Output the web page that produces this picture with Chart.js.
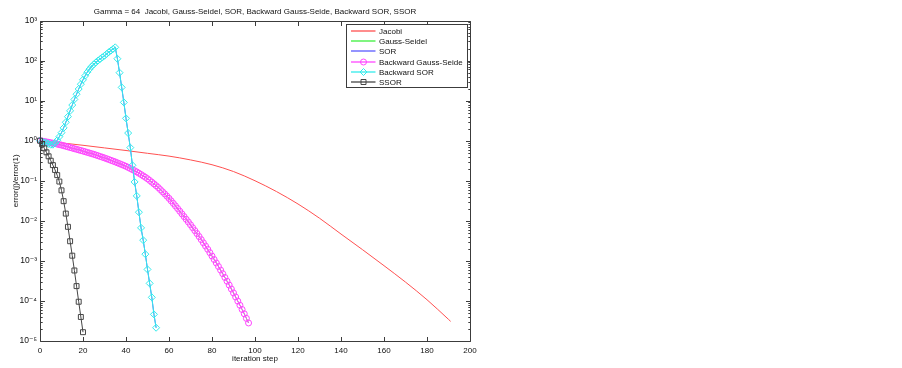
<!DOCTYPE html>
<html>
<head>
<meta charset="utf-8">
<style>
html,body{margin:0;padding:0;background:#fff;}
#wrap{width:902px;height:368px;position:relative;}
canvas{display:block;}
</style>
<script src="https://cdn.jsdelivr.net/npm/chart.js@4/dist/chart.umd.min.js"></script>
</head>
<body>
<div id="wrap"><canvas id="c" width="902" height="368"></canvas></div>
<script>
// ---------- text ----------
const titleText = 'Gamma = 64  Jacobi, Gauss-Seidel, SOR, Backward Gauss-Seide, Backward SOR, SSOR';
const xAxisTitle = 'iteration step';
const yAxisTitle = 'error(j)/error(1)';
const seriesNames = ['Jacobi', 'Gauss-Seidel', 'SOR', 'Backward Gauss-Seide', 'Backward SOR', 'SSOR'];

// ---------- ticks ----------
const xTickValues = [0, 20, 40, 60, 80, 100, 120, 140, 160, 180, 200];
const yTickValues = [1e-5, 1e-4, 1e-3, 1e-2, 1e-1, 1e0, 1e1, 1e2, 1e3];
const yTickLabels = ['10\u207B\u2075', '10\u207B\u2074', '10\u207B\u00B3', '10\u207B\u00B2', '10\u207B\u00B9', '10\u2070', '10\u00B9', '10\u00B2', '10\u00B3'];
const yMinorFactors = [2, 3, 4, 5, 6, 7, 8, 9];

// ---------- data (log10 of error(j)/error(1)) ----------
// Jacobi: plain line, sampled at these iteration steps
const jacobiSteps = [0, 10, 20, 30, 40, 50, 60, 70, 80, 90, 100, 110, 120, 130, 140, 150, 160, 170, 180, 190, 191];
const jacobiLog10 = [0, -0.055, -0.115, -0.18, -0.245, -0.315, -0.385, -0.48, -0.6, -0.77, -1.0, -1.27, -1.58, -1.935, -2.33, -2.72, -3.12, -3.53, -3.97, -4.46, -4.51];

// Backward Gauss-Seidel: one value per step 0..97
const backwardGaussSeidelLog10 = [
  0, -0.01, -0.02, -0.03, -0.04, -0.05, -0.062, -0.074, -0.086, -0.098,
  -0.11, -0.125, -0.14, -0.155, -0.17, -0.185, -0.2, -0.215, -0.23, -0.245,
  -0.26, -0.276, -0.292, -0.308, -0.324, -0.34, -0.358, -0.376, -0.394, -0.412,
  -0.43, -0.45, -0.47, -0.49, -0.51, -0.53, -0.552, -0.574, -0.596, -0.618,
  -0.64, -0.667, -0.694, -0.722, -0.75, -0.78, -0.812, -0.844, -0.878, -0.913,
  -0.95, -0.992, -1.035, -1.078, -1.123, -1.17, -1.222, -1.275, -1.328, -1.383,
  -1.44, -1.502, -1.565, -1.628, -1.693, -1.76, -1.827, -1.894, -1.962, -2.03,
  -2.1, -2.172, -2.245, -2.318, -2.393, -2.47, -2.55, -2.63, -2.71, -2.795,
  -2.88, -2.966, -3.053, -3.14, -3.23, -3.32, -3.414, -3.508, -3.604, -3.702,
  -3.8, -3.902, -4.005, -4.108, -4.213, -4.32, -4.435, -4.55
];

// Backward SOR: one value per step 0..54
const backwardSorLog10 = [
  0, -0.02, -0.04, -0.06, -0.08, -0.1, -0.1, -0.06, 0.01, 0.1,
  0.2, 0.32, 0.46, 0.6, 0.745, 0.89, 1.03, 1.16, 1.29, 1.41,
  1.52, 1.62, 1.71, 1.785, 1.85, 1.905, 1.955, 2.0, 2.04, 2.08,
  2.12, 2.165, 2.21, 2.25, 2.29, 2.33, 2.046, 1.697, 1.33, 0.956,
  0.558, 0.191, -0.173, -0.614, -1.03, -1.379, -1.785, -2.176, -2.483, -2.832,
  -3.213, -3.562, -3.911, -4.335, -4.669
];

// SSOR: one value per step 0..20
const ssorLog10 = [
  0, -0.09, -0.19, -0.29, -0.39, -0.5, -0.61, -0.73, -0.86, -1.02,
  -1.24, -1.51, -1.82, -2.15, -2.51, -2.87, -3.24, -3.63, -4.02, -4.4, -4.78
];

// Gauss-Seidel and SOR are not visible: they lie exactly beneath the backward variants
const gaussSeidelLog10 = backwardGaussSeidelLog10;
const sorLog10 = backwardSorLog10;

// ---------- styling ----------
const FONT = "'Liberation Sans', 'DejaVu Sans', sans-serif";
const FS = 8;
const TXT = '#111';
const AXIS = 'rgb(60,60,60)';
const seriesColors = ['rgb(255,80,80)', 'rgb(60,240,60)', 'rgb(90,90,255)', 'rgb(255,70,255)', 'rgb(50,235,235)', 'rgb(70,70,70)'];
const seriesMarks = [null, null, null, 'circle', 'rectRot', 'rect'];

const toPoints = (arr, steps) => arr.map((v, i) => ({ x: steps ? steps[i] : i, y: Math.pow(10, v) }));

const datasets = [
  { label: seriesNames[0], data: toPoints(jacobiLog10, jacobiSteps), borderColor: seriesColors[0],
    pointRadius: 0, cubicInterpolationMode: 'monotone', order: 6 },
  { label: seriesNames[1], data: toPoints(gaussSeidelLog10), borderColor: seriesColors[1],
    pointRadius: 0, order: 5 },
  { label: seriesNames[2], data: toPoints(sorLog10), borderColor: seriesColors[2],
    pointRadius: 0, order: 4 },
  { label: seriesNames[3], data: toPoints(backwardGaussSeidelLog10), borderColor: seriesColors[3],
    pointStyle: 'circle', pointRadius: 3, pointBorderColor: seriesColors[3], order: 3 },
  { label: seriesNames[4], data: toPoints(backwardSorLog10), borderColor: seriesColors[4],
    pointStyle: 'rectRot', pointRadius: 3.5, pointBorderColor: seriesColors[4], order: 2 },
  { label: seriesNames[5], data: toPoints(ssorLog10), borderColor: seriesColors[5],
    pointStyle: 'rect', pointRadius: 3.5, pointBorderColor: seriesColors[5], order: 1 }
];
datasets.forEach(d => {
  d.fill = false; d.clip = false; d.borderWidth = 1; d.pointBorderWidth = 1;
  d.pointBackgroundColor = 'rgba(0,0,0,0)'; d.pointHoverRadius = d.pointRadius;
});

function drawMark(ctx, type, x, y) {
  ctx.beginPath();
  if (type === 'circle') {
    ctx.arc(x, y, 3, 0, Math.PI * 2);
  } else if (type === 'rectRot') {
    ctx.moveTo(x - 3.5, y); ctx.lineTo(x, y - 3.5); ctx.lineTo(x + 3.5, y); ctx.lineTo(x, y + 3.5); ctx.closePath();
  } else if (type === 'rect') {
    ctx.rect(x - 2.5, y - 2.5, 5, 5);
  }
  ctx.stroke();
}

const framePlugin = {
  id: 'frame',
  afterDatasetsDraw(chart) {
    const { ctx, chartArea: a, scales: { x, y } } = chart;
    const L = Math.round(a.left) + 0.5, R = Math.round(a.right) + 0.5;
    const T = Math.round(a.top) + 0.5, B = Math.round(a.bottom) + 0.5;
    ctx.save();
    ctx.strokeStyle = AXIS;
    ctx.lineWidth = 1;
    ctx.beginPath();
    ctx.rect(L, T, R - L, B - T);
    const major = 4.5, minor = 2.2;
    xTickValues.forEach(v => {
      const px = Math.round(x.getPixelForValue(v)) + 0.5;
      ctx.moveTo(px, B); ctx.lineTo(px, B - major);
      ctx.moveTo(px, T); ctx.lineTo(px, T + major);
    });
    yTickValues.forEach(v => {
      const py = Math.round(y.getPixelForValue(v)) + 0.5;
      ctx.moveTo(L, py); ctx.lineTo(L + major, py);
      ctx.moveTo(R, py); ctx.lineTo(R - major, py);
      if (v < 1e3) {
        yMinorFactors.forEach(m => {
          const pm = Math.round(y.getPixelForValue(m * v)) + 0.5;
          ctx.moveTo(L, pm); ctx.lineTo(L + minor, pm);
          ctx.moveTo(R, pm); ctx.lineTo(R - minor, pm);
        });
      }
    });
    ctx.stroke();

    // legend box (inside upper-right of axes)
    const bw = 121, bh = 63;
    const bx = Math.round(a.right - 3.5 - bw) + 0.5, by = Math.round(a.top + 3.5) + 0.5;
    ctx.fillStyle = '#fff';
    ctx.fillRect(bx, by, bw, bh);
    ctx.strokeStyle = AXIS;
    ctx.lineWidth = 1;
    ctx.strokeRect(bx, by, bw, bh);
    ctx.font = FS + 'px ' + FONT;
    ctx.textBaseline = 'middle';
    ctx.textAlign = 'left';
    seriesNames.forEach((name, i) => {
      const ry = Math.round(by + 6.5 + i * 10.2);
      ctx.strokeStyle = seriesColors[i];
      ctx.lineWidth = 1.3;
      ctx.beginPath();
      ctx.moveTo(bx + 4.5, ry); ctx.lineTo(bx + 29, ry);
      ctx.stroke();
      ctx.lineWidth = 1;
      if (seriesMarks[i]) drawMark(ctx, seriesMarks[i], bx + 17, ry);
      ctx.fillStyle = TXT;
      ctx.fillText(name, bx + 32.5, ry + 0.5);
    });
    ctx.restore();
  }
};

new Chart(document.getElementById('c'), {
  type: 'line',
  data: { datasets },
  options: {
    responsive: false,
    animation: false,
    devicePixelRatio: 1,
    events: [],
    layout: { padding: { left: 0, right: 432, top: 0, bottom: 0 } },
    plugins: {
      legend: { display: false },
      tooltip: { enabled: false },
      title: {
        display: true, text: titleText, fullSize: false, color: TXT,
        font: { family: FONT, size: FS, weight: 'normal' },
        padding: { top: 7.2, bottom: 3.7 }
      }
    },
    scales: {
      x: {
        type: 'linear', min: 0, max: 200,
        afterFit(s) { s.height = 27; },
        afterBuildTicks(s) { s.ticks = xTickValues.map(v => ({ value: v })); },
        ticks: { padding: 4.5, color: TXT, font: { family: FONT, size: FS }, maxRotation: 0, autoSkip: false },
        grid: { display: false, drawTicks: false },
        border: { display: false },
        title: { display: true, text: xAxisTitle, color: TXT, font: { family: FONT, size: FS }, padding: { top: 0, bottom: 4 } }
      },
      y: {
        type: 'logarithmic', min: 1e-5, max: 1e3,
        afterFit(s) { s.width = 40; },
        afterBuildTicks(s) { s.ticks = yTickValues.map(v => ({ value: v })); },
        ticks: { padding: 3, color: TXT, font: { family: FONT, size: FS + 0.5 }, autoSkip: false,
                 callback: (v, i) => yTickLabels[i] },
        grid: { display: false, drawTicks: false },
        border: { display: false },
        title: { display: true, text: yAxisTitle, color: TXT, font: { family: FONT, size: FS }, padding: { top: 10.5, bottom: 0 } }
      }
    }
  },
  plugins: [framePlugin]
});
</script>
</body>
</html>
